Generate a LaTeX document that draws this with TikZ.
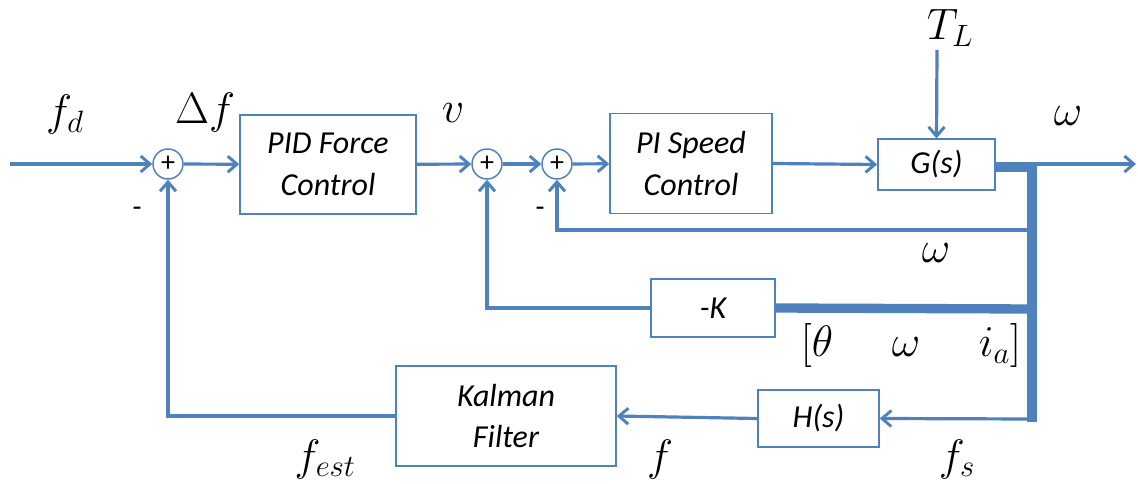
\documentclass[tikz,border=0pt]{standalone}
\usepackage{fix-cm}
\usepackage[no-math]{fontspec}
\newfontfamily\boxfont{Carlito}
\usetikzlibrary{arrows.meta}
\definecolor{wire}{HTML}{4F81BD}
\tikzset{
  blk/.style={draw=wire, line width=1.1pt, fill=white, align=center,
    font=\boxfont\itshape\fontsize{24}{31}\selectfont, inner sep=2pt},
  sumnode/.style={circle, draw=wire, line width=1.1pt, fill=white,
    minimum size=22.5pt, inner sep=0pt, font=\boxfont\fontsize{21}{21}\selectfont},
  wirepath/.style={draw=wire, line width=2.4pt},
  arr/.style={wirepath, -{Straight Barb[length=7pt, width=12pt, line width=2.2pt]}},
  bus/.style={draw=wire, line width=7pt},
  sig/.style={font=\fontsize{33}{38}\selectfont},
  sign/.style={font=\boxfont\fontsize{22}{22}\selectfont},
}
\begin{document}
\begin{tikzpicture}[x=0.75pt, y=-0.75pt]
\useasboundingbox (0,0) rectangle (1138,484);

% summing junctions
\node[sumnode] (s1) at (168,164) {+};
\node[sumnode] (s2) at (487,164) {+};
\node[sumnode] (s3) at (557,164) {+};

% blocks
\node[blk, minimum width=132pt, minimum height=74pt] (pid) at (328,164.5) {PID Force\\Control};
\node[blk, minimum width=121.5pt, minimum height=75pt] (pi) at (691,163.5) {PI Speed\\Control};
\node[blk, minimum width=88pt, minimum height=38pt] (g) at (936.5,164.5) {G(s)};
\node[blk, minimum width=93pt, minimum height=43.5pt] (k) at (713,308) {-K};
\node[blk, minimum width=90.75pt, minimum height=42.75pt] (h) at (818.5,418.5) {H(s)};
\node[blk, minimum width=165pt, minimum height=75pt] (kal) at (506,416) {Kalman\\Filter};

% free ends and branch points
\coordinate (in) at (10,164);
\coordinate (tlend) at (937,50);
\coordinate (jtop) at (1032,167);
\coordinate (jout) at (1032,164);
\coordinate (out) at (1136,164);
\coordinate (jw) at (1032,230);
\coordinate (jk) at (1032,309);
\coordinate (jbot) at (1032,419);

% forward path
\draw[arr] (in) -- (s1);
\draw[arr] (s1) -- (pid);
\draw[arr] (pid) -- (s2);
\draw[arr] (s2) -- (s3);
\draw[arr] (s3) -- (pi);
\draw[arr] (pi.east) -- (g.west);
\draw[arr] (tlend) -- (g.north);

% state bus
\draw[bus] (g.east |- jtop) -- (jtop) -- ([yshift=-2pt]jbot);
\draw[bus] (jk) -- (k.east);
\draw[arr] (jout) -- (out);

% feedback paths
\draw[arr] (jw) -| (s3.south);
\draw[arr] (k.west) -| (s2.south);
\draw[arr] (jbot) -- (h.east);
\draw[arr] (h.west) -- (kal.east);
\draw[arr] (kal.west) -| (s1.south);

% signal labels
\node[sig] (lfd) at (65,115) {$f_d$};
\node[sig] (ldf) at (205,113) {$\Delta f$};
\node[sig] (lv) at (453,113) {$v$};
\node[sig] (ltl) at (950,28) {$T_L$};
\node[sig] (lw1) at (1068,116) {$\omega$};
\node[sig] (lw2) at (936,253) {$\omega$};
\node[sig] (lx) at (911,346) {$[\theta\hspace{44pt}\omega\hspace{44pt}i_a]$};
\node[sig] (lfest) at (325,459) {$f_{est}$};
\node[sig] (lf) at (660,459) {$f$};
\node[sig] (lfs) at (957,459) {$f_s$};
\node[sign] (m1) at (137,212) {-};
\node[sign] (m3) at (540,212) {-};
\end{tikzpicture}
\end{document}
